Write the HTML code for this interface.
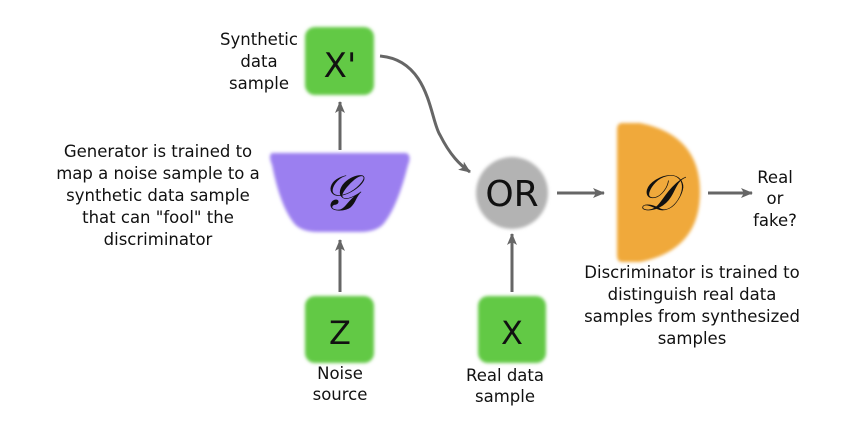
<!DOCTYPE html><html><head><style>body{margin:0;background:#fff}text{font-family:"DejaVu Sans","Liberation Sans",sans-serif;font-size:16.5px;fill:#111}</style></head><body>
<svg width="852" height="436" viewBox="0 0 852 436" xmlns="http://www.w3.org/2000/svg">
<defs><marker id="a" markerWidth="12" markerHeight="10" refX="11" refY="5" orient="auto" markerUnits="userSpaceOnUse"><path d="M0,0 L12,5 L0,10 L3,5 z" fill="#666"/></marker>
<filter id="b"><feGaussianBlur stdDeviation="1.5"/></filter></defs>
<rect width="852" height="436" fill="#fff"/>
<g stroke="#666" stroke-width="3" fill="none" marker-end="url(#a)">
<path d="M380,56 C430,60 430,120 440,135 C450,155 460,165 470,172"/>
<line x1="340" y1="150" x2="340" y2="102"/>
<line x1="340" y1="292" x2="340" y2="240"/>
<line x1="512" y1="292" x2="512" y2="234"/>
<line x1="557" y1="193" x2="604" y2="193"/>
<line x1="708" y1="193" x2="752" y2="193"/>
</g>
<rect x="305" y="27" width="69" height="68" rx="10" fill="#62c944" filter="url(#b)"/>
<rect x="305" y="296" width="69" height="67" rx="10" fill="#62c944" filter="url(#b)"/>
<rect x="478" y="296" width="68" height="67" rx="10" fill="#62c944" filter="url(#b)"/>
<path d="M272,153 L406,153 Q412,155 408,165 Q398,205 385,222 Q378,232 360,232 L318,232 Q300,232 293,222 Q280,205 272,165 Q268,155 272,153 z" fill="#9b7ff0" filter="url(#b)"/>
<circle cx="512" cy="193" r="36" fill="#b3b3b3" filter="url(#b)"/>
<path d="M622,123 L640,123 Q700,135 700,192 Q700,250 640,262 L622,262 Q617,262 617,255 L617,130 Q617,123 622,123 z" fill="#f0a93b" filter="url(#b)"/>
<text x="340" y="77" text-anchor="middle" style="font-size:34px">X'</text>
<text x="340" y="344" text-anchor="middle" style="font-size:32px">Z</text>
<text x="512" y="344" text-anchor="middle" style="font-size:32px">X</text>
<text x="512" y="206" text-anchor="middle" style="font-size:36px">OR</text>
<text x="340" y="210" text-anchor="middle" style="font-family:'DejaVu Serif',serif;font-style:italic;font-size:50px">𝒢</text>
<text x="658" y="210" text-anchor="middle" style="font-family:'DejaVu Serif',serif;font-style:italic;font-size:50px">𝒟</text>
<g text-anchor="middle">
<text x="259" y="45">Synthetic</text><text x="259" y="67">data</text><text x="259" y="89">sample</text>
<text x="158" y="157">Generator is trained to</text><text x="158" y="179">map a noise sample to a</text><text x="158" y="201">synthetic data sample</text><text x="158" y="223">that can "fool" the</text><text x="158" y="245">discriminator</text>
<text x="775" y="183">Real</text><text x="775" y="204">or</text><text x="775" y="226">fake?</text>
<text x="692" y="278">Discriminator is trained to</text><text x="692" y="300">distinguish real data</text><text x="692" y="322">samples from synthesized</text><text x="692" y="344">samples</text>
<text x="340" y="379">Noise</text><text x="340" y="400">source</text>
<text x="505" y="381">Real data</text><text x="505" y="402">sample</text>
</g>
</svg></body></html>
